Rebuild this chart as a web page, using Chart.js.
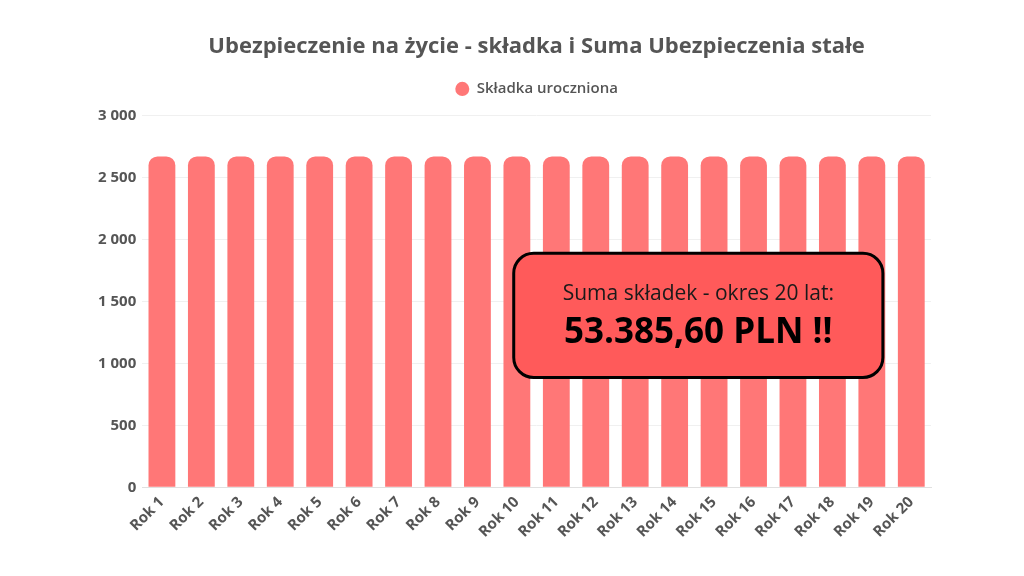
<!DOCTYPE html>
<html>
<head>
<meta charset="utf-8">
<script src="https://cdn.jsdelivr.net/npm/chart.js@4"></script>
<style>
    html, body { margin: 0; padding: 0; background: #fff; overflow: hidden; }
    #wrap { position: absolute; left: 0; top: 0; width: 1024px; height: 576px; }
</style>
</head>
<body>
<div id="wrap"><canvas id="c_premium"></canvas></div>
<script>
// Dane
const years = ['Rok 1', 'Rok 2', 'Rok 3', 'Rok 4', 'Rok 5', 'Rok 6', 'Rok 7', 'Rok 8', 'Rok 9', 'Rok 10',
    'Rok 11', 'Rok 12', 'Rok 13', 'Rok 14', 'Rok 15', 'Rok 16', 'Rok 17', 'Rok 18', 'Rok 19', 'Rok 20']
const premiums = [2669.28, 2669.28, 2669.28, 2669.28, 2669.28, 2669.28, 2669.28, 2669.28, 2669.28, 2669.28,
    2669.28, 2669.28, 2669.28, 2669.28, 2669.28, 2669.28, 2669.28, 2669.28, 2669.28, 2669.28]
const yTicks = [0, 500, 1000, 1500, 2000, 2500, 3000]
// Dane EOF

let fmtSpace = function (v) {
    return String(v).replace(/\B(?=(\d{3})+(?!\d))/g, ' ')
}
let fmtPLN = function (v) {
    let parts = v.toFixed(2).split('.')
    return parts[0].replace(/\B(?=(\d{3})+(?!\d))/g, '.') + ',' + parts[1]
}

// **** Odstęp pod legendą
const legendMargin = {
    id: 'legendMargin',
    beforeInit(chart) {
        const fit = chart.legend.fit
        chart.legend.fit = function () {
            fit.bind(chart.legend)()
            this.height += 9
        }
    }
}

// **** Ramka z sumą
const sumBox = {
    id: 'sumBox',
    afterDatasetsDraw(chart) {
        const { ctx, chartArea: a, scales } = chart
        const total = premiums.reduce((s, v) => s + v, 0)
        const x1 = a.left + a.width * 0.471
        const x2 = a.left + a.width * 0.939
        const y1 = scales.y.getPixelForValue(1888)
        const y2 = scales.y.getPixelForValue(886)
        ctx.save()
        ctx.beginPath()
        ctx.roundRect(x1, y1, x2 - x1, y2 - y1, 20)
        ctx.fillStyle = '#FF5A5A'
        ctx.fill()
        ctx.lineWidth = 3
        ctx.strokeStyle = '#000'
        ctx.stroke()
        const cx = (x1 + x2) / 2
        ctx.textAlign = 'center'
        ctx.textBaseline = 'middle'
        ctx.fillStyle = '#1a1a1a'
        ctx.font = '400 21px "Open Sans"'
        ctx.fillText(`Suma składek - okres ${years.length} lat:`, cx, y1 + 41)
        ctx.fillStyle = '#000'
        ctx.font = '700 35px "Open Sans"'
        ctx.fillText(`${fmtPLN(total)} PLN !!`, cx, y1 + 80)
        ctx.restore()
    }
}
// **** EOF

Chart.defaults.font.family = '"Open Sans"'
Chart.defaults.color = '#555'

var ctx = document.getElementById('c_premium').getContext('2d')
new Chart(ctx, {
    type: 'bar',
    data: {
        labels: years,
        datasets: [{
            label: 'Składka uroczniona',
            data: premiums,
            backgroundColor: '#FF7777',
            borderWidth: 0,
            borderRadius: { topLeft: 9, topRight: 9 },
            borderSkipped: 'bottom',
            barPercentage: 0.68,
            categoryPercentage: 1
        }]
    },
    options: {
        responsive: true,
        maintainAspectRatio: false,
        animation: false,
        layout: {
            padding: { left: 92, right: 93, top: 34, bottom: 29 }
        },
        plugins: {
            title: {
                display: true,
                fullSize: false,
                text: 'Ubezpieczenie na życie - składka i Suma Ubezpieczenia stałe',
                color: '#555',
                font: { size: 22, weight: '700' },
                padding: { top: 0, bottom: 5 }
            },
            legend: {
                display: true,
                fullSize: false,
                position: 'top',
                labels: {
                    usePointStyle: true,
                    pointStyle: 'circle',
                    pointStyleWidth: 14,
                    boxHeight: 10,
                    color: '#555',
                    font: { size: 15, weight: '600' },
                    padding: 16
                }
            },
            tooltip: { enabled: false }
        },
        scales: {
            x: {
                grid: { display: false, drawTicks: false },
                border: { color: '#e0e0e0' },
                ticks: {
                    minRotation: 45,
                    maxRotation: 45,
                    padding: 6,
                    color: '#555',
                    font: { size: 15, weight: '700' }
                }
            },
            y: {
                min: yTicks[0],
                max: yTicks[yTicks.length - 1],
                afterBuildTicks: (axis) => { axis.ticks = yTicks.map(v => ({ value: v })) },
                grid: { color: '#f0f0f0', drawTicks: false },
                border: { display: false },
                ticks: {
                    padding: 6,
                    color: '#555',
                    font: { size: 15, weight: '700' },
                    callback: (v) => fmtSpace(v)
                }
            }
        }
    },
    plugins: [legendMargin, sumBox]
})
</script>
</body>
</html>
